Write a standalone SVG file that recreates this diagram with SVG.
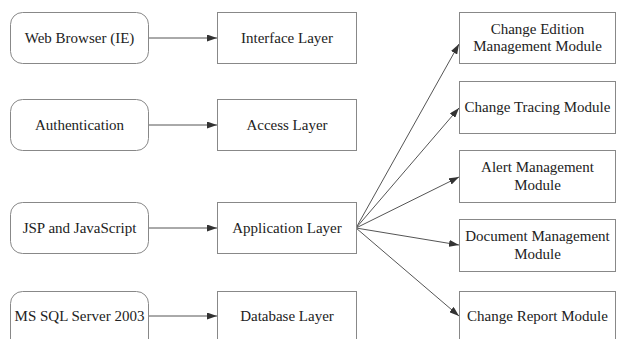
<svg xmlns="http://www.w3.org/2000/svg" width="620" height="339" viewBox="0 0 620 339">
<defs>
<marker id="ah" markerWidth="10" markerHeight="7" refX="10" refY="3.5" orient="auto" markerUnits="userSpaceOnUse">
<path d="M0,0 L10,3.5 L0,7 Z" fill="#333"/>
</marker>
</defs>
<rect width="620" height="339" fill="#fff"/>
<g id="connectors" fill="none" stroke="#555" stroke-width="1">
<line x1="148" y1="38" x2="217" y2="38" marker-end="url(#ah)"/>
<line x1="148" y1="125" x2="217" y2="125" marker-end="url(#ah)"/>
<line x1="148" y1="228" x2="217" y2="228" marker-end="url(#ah)"/>
<line x1="148" y1="316" x2="217" y2="316" marker-end="url(#ah)"/>
<line x1="356" y1="228" x2="459" y2="44" marker-end="url(#ah)"/>
<line x1="356" y1="228" x2="459" y2="108" marker-end="url(#ah)"/>
<line x1="356" y1="228" x2="459" y2="177" marker-end="url(#ah)"/>
<line x1="356" y1="228" x2="459" y2="245" marker-end="url(#ah)"/>
<line x1="356" y1="228" x2="459" y2="316" marker-end="url(#ah)"/>
</g>
<g font-family="Liberation Serif, serif" font-size="15" fill="#222" text-anchor="middle">
<g id="web-browser"><rect fill="#fff" stroke="#888" x="10.5" y="12.5" width="138" height="51" rx="12"/><text x="79.5" y="43">Web Browser (IE)</text></g>
<g id="authentication"><rect fill="#fff" stroke="#888" x="10.5" y="99.5" width="138" height="51" rx="12"/><text x="79.5" y="130">Authentication</text></g>
<g id="jsp"><rect fill="#fff" stroke="#888" x="10.5" y="202.5" width="138" height="51" rx="12"/><text x="79.5" y="233">JSP and JavaScript</text></g>
<g id="mssql"><rect fill="#fff" stroke="#888" x="10.5" y="291.5" width="138" height="60" rx="12"/><text x="79.5" y="321">MS SQL Server 2003</text></g>
<g id="interface-layer"><rect fill="#fff" stroke="#888" x="217.5" y="12.5" width="139" height="51"/><text x="287" y="43">Interface Layer</text></g>
<g id="access-layer"><rect fill="#fff" stroke="#888" x="217.5" y="99.5" width="139" height="51"/><text x="287" y="130">Access Layer</text></g>
<g id="application-layer"><rect fill="#fff" stroke="#888" x="217.5" y="202.5" width="139" height="51"/><text x="287" y="233">Application Layer</text></g>
<g id="database-layer"><rect fill="#fff" stroke="#888" x="217.5" y="291.5" width="139" height="60"/><text x="287" y="321">Database Layer</text></g>
<g id="change-edition"><rect fill="#fff" stroke="#888" x="459.5" y="12.5" width="156" height="51"/><text x="537.5" y="34">Change Edition</text><text x="537.5" y="51">Management Module</text></g>
<g id="change-tracing"><rect fill="#fff" stroke="#888" x="459.5" y="81.5" width="156" height="52"/><text x="537.5" y="112">Change Tracing Module</text></g>
<g id="alert-management"><rect fill="#fff" stroke="#888" x="459.5" y="150.5" width="156" height="52"/><text x="537.5" y="172">Alert Management</text><text x="537.5" y="190">Module</text></g>
<g id="document-management"><rect fill="#fff" stroke="#888" x="459.5" y="219.5" width="156" height="52"/><text x="537.5" y="241">Document Management</text><text x="537.5" y="259">Module</text></g>
<g id="change-report"><rect fill="#fff" stroke="#888" x="459.5" y="291.5" width="156" height="60"/><text x="537.5" y="321">Change Report Module</text></g>
</g>
</svg>
